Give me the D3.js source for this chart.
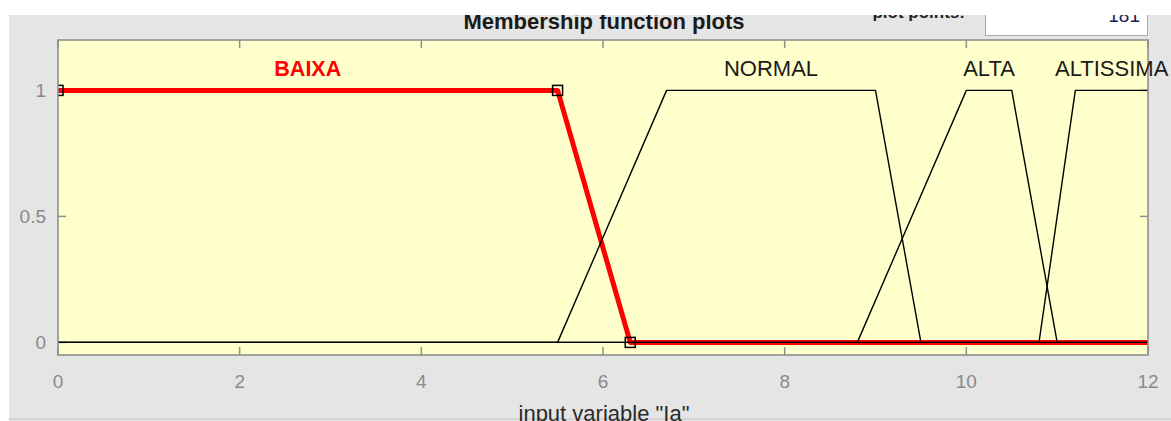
<!DOCTYPE html>
<html>
<head>
<meta charset="utf-8">
<script src="https://cdn.jsdelivr.net/npm/d3@7"></script>
<style>
  html, body { margin: 0; padding: 0; background: #ffffff; }
  svg { display: block; font-family: "Liberation Sans", Arial, sans-serif; }
</style>
</head>
<body>
<svg id="chart" width="1171" height="421"></svg>
<script>
// Membership functions of input variable "Ia" (vertices of each trapezoid)
const mfNames = ["BAIXA", "NORMAL", "ALTA", "ALTISSIMA"];
const baixaX = [0, 5.5, 6.3, 12];
const baixaY = [1, 1, 0, 0];
const normalX = [0, 5.5, 6.7, 9, 9.5, 12];
const normalY = [0, 0, 1, 1, 0, 0];
const altaX = [0, 8.8, 10, 10.5, 11, 12];
const altaY = [0, 0, 1, 1, 0, 0];
const altissimaX = [0, 10.8, 11.2, 12];
const altissimaY = [0, 0, 1, 1];
// parameter handles of the selected function (BAIXA)
const handleX = [0, 5.5, 6.3];
const handleY = [1, 1, 0];

const xTicks = [0, 2, 4, 6, 8, 10, 12];
const yTicks = [0, 0.5, 1];
const xDomain = [0, 12];
const yDomain = [-0.05, 1.2];
const selected = "BAIXA";

const svg = d3.select("#chart");
const W = 1171, H = 421;
const plot = { left: 58, right: 1148, top: 40, bottom: 355 };

// figure panel
svg.append("rect").attr("x", 9).attr("y", 0).attr("width", W - 9).attr("height", H)
  .attr("fill", "#e5e5e5");

const x = d3.scaleLinear().domain(xDomain).range([plot.left, plot.right]);
const y = d3.scaleLinear().domain(yDomain).range([plot.bottom, plot.top]);

// "plot points" edit box and its caption (upper part hidden under the window edge)
const defs = svg.append("defs");
defs.append("clipPath").attr("id", "topclip")
  .append("rect").attr("x", 0).attr("y", 15).attr("width", W).attr("height", H);
const topGroup = svg.append("g").attr("clip-path", "url(#topclip)");
topGroup.append("rect").attr("x", 985.5).attr("y", -10).attr("width", 162).attr("height", 45.5)
  .attr("fill", "#ffffff").attr("stroke", "#a8a8a8").attr("stroke-width", 1);
topGroup.append("text").attr("x", 1140).attr("y", 22).attr("text-anchor", "end")
  .attr("font-size", 19).attr("fill", "#1c1c5c").text("181");
topGroup.append("text").attr("x", 965).attr("y", 18).attr("text-anchor", "end")
  .attr("font-size", 17).attr("font-weight", "bold").attr("fill", "#222").text("plot points:");

// title
topGroup.append("text").attr("x", 604).attr("y", 29).attr("text-anchor", "middle")
  .attr("font-size", 22).attr("font-weight", "bold").attr("fill", "#1a1a1a")
  .text("Membership function plots");

// white strip above and left of the panel
svg.append("rect").attr("x", 0).attr("y", 0).attr("width", W).attr("height", 15).attr("fill", "#ffffff");
svg.append("rect").attr("x", 0).attr("y", 0).attr("width", 9).attr("height", H).attr("fill", "#ffffff");

// axes background
svg.append("rect").attr("x", plot.left).attr("y", plot.top)
  .attr("width", plot.right - plot.left).attr("height", plot.bottom - plot.top)
  .attr("fill", "#ffffcc");

// ticks (inside, all four sides)
const tickLen = 8;
const axisColor = "#8f8f8f";
const tg = svg.append("g").attr("stroke", axisColor).attr("stroke-width", 1.5);
xTicks.forEach(t => {
  tg.append("line").attr("x1", x(t)).attr("x2", x(t)).attr("y1", plot.bottom).attr("y2", plot.bottom - tickLen);
  tg.append("line").attr("x1", x(t)).attr("x2", x(t)).attr("y1", plot.top).attr("y2", plot.top + tickLen);
});
yTicks.forEach(t => {
  tg.append("line").attr("x1", plot.left).attr("x2", plot.left + tickLen).attr("y1", y(t)).attr("y2", y(t));
  tg.append("line").attr("x1", plot.right).attr("x2", plot.right - tickLen).attr("y1", y(t)).attr("y2", y(t));
});

// membership function curves
defs.append("clipPath").attr("id", "plotclip")
  .append("rect").attr("x", plot.left).attr("y", plot.top)
  .attr("width", plot.right - plot.left).attr("height", plot.bottom - plot.top);

const series = [
  { name: "BAIXA", xs: baixaX, ys: baixaY },
  { name: "NORMAL", xs: normalX, ys: normalY },
  { name: "ALTA", xs: altaX, ys: altaY },
  { name: "ALTISSIMA", xs: altissimaX, ys: altissimaY }
];
const line = d3.line().x(d => x(d[0])).y(d => y(d[1]));
const curves = svg.append("g").attr("clip-path", "url(#plotclip)");
// selected function first, the others on top
const order = series.filter(s => s.name === selected).concat(series.filter(s => s.name !== selected));
order.forEach(s => {
  const pts = s.xs.map((v, i) => [v, s.ys[i]]);
  const isSel = s.name === selected;
  curves.append("path").attr("d", line(pts)).attr("fill", "none")
    .attr("stroke", isSel ? "#ff0000" : "#000000")
    .attr("stroke-width", isSel ? 5 : 1.4)
    .attr("stroke-linejoin", "round");
});
// parameter handles
handleX.forEach((hx, i) => {
  curves.append("rect").attr("x", x(hx) - 5).attr("y", y(handleY[i]) - 5)
    .attr("width", 10).attr("height", 10).attr("fill", "none")
    .attr("stroke", "#000").attr("stroke-width", 1.5);
});

// axes box
svg.append("rect").attr("x", plot.left).attr("y", plot.top)
  .attr("width", plot.right - plot.left).attr("height", plot.bottom - plot.top)
  .attr("fill", "none").attr("stroke", axisColor).attr("stroke-width", 1.6);

// labels of the functions, centred over their plateau
series.forEach(s => {
  const top = s.xs.filter((v, i) => s.ys[i] === 1);
  const cx = (d3.min(top) + d3.max(top)) / 2;
  const isSel = s.name === selected;
  svg.append("text").attr("x", x(cx)).attr("y", y(1) - 14)
    .attr("text-anchor", "middle").attr("font-size", isSel ? 21.5 : 22)
    .attr("font-weight", isSel ? "bold" : "normal")
    .attr("fill", isSel ? "#ff0000" : "#1a1a1a")
    .text(s.name);
});

// tick labels
const lab = svg.append("g").attr("fill", "#8a8a8a").attr("font-size", 19);
xTicks.forEach(t => {
  lab.append("text").attr("x", x(t)).attr("y", 388).attr("text-anchor", "middle").text(t);
});
yTicks.forEach(t => {
  lab.append("text").attr("x", 46).attr("y", y(t)).attr("dy", "0.35em")
    .attr("text-anchor", "end").text(t);
});

// x-axis label
svg.append("line").attr("x1", 9).attr("x2", W).attr("y1", 419).attr("y2", 419)
  .attr("stroke", "#c4c4c4").attr("stroke-width", 1);
svg.append("text").attr("x", 604).attr("y", 421).attr("text-anchor", "middle")
  .attr("font-size", 22).attr("fill", "#2a2a2a").text('input variable "Ia"');
</script>
</body>
</html>
